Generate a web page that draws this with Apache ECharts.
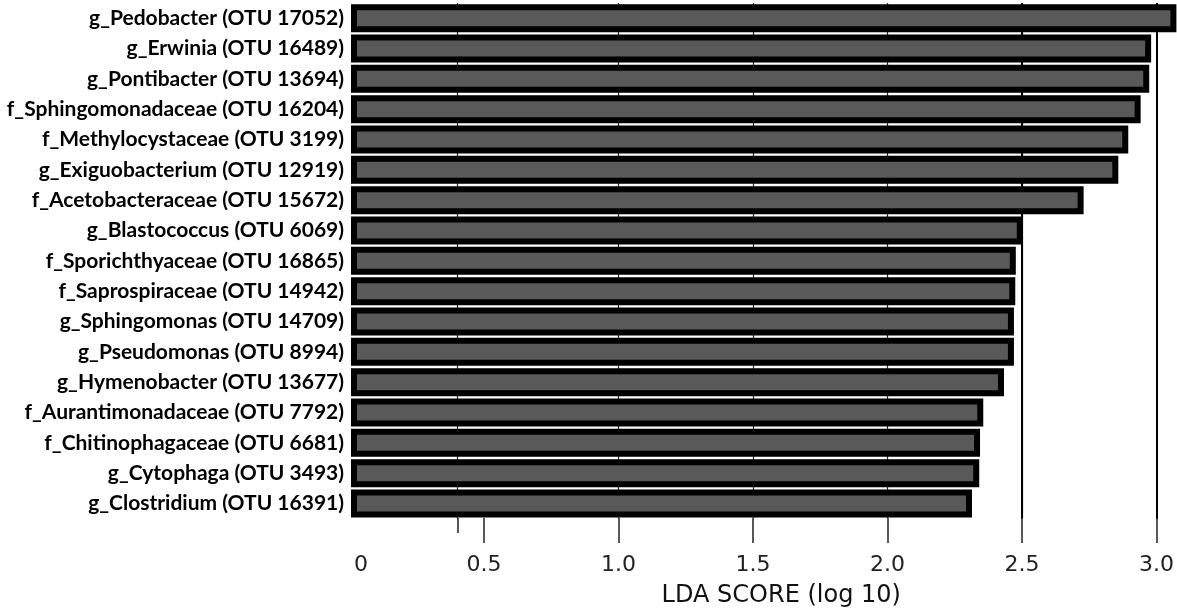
<!DOCTYPE html>
<html>
<head>
<meta charset="utf-8">
<script src="https://cdn.jsdelivr.net/npm/echarts@6/dist/echarts.min.js"></script>
<style>
html,body{margin:0;padding:0;background:#fff;}
#chart{width:1177px;height:613px;}
</style>
</head>
<body>
<div id="chart"></div>
<script>
const categories = [
  'g_Pedobacter (OTU 17052)',
  'g_Erwinia (OTU 16489)',
  'g_Pontibacter (OTU 13694)',
  'f_Sphingomonadaceae (OTU 16204)',
  'f_Methylocystaceae (OTU 3199)',
  'g_Exiguobacterium (OTU 12919)',
  'f_Acetobacteraceae (OTU 15672)',
  'g_Blastococcus (OTU 6069)',
  'f_Sporichthyaceae (OTU 16865)',
  'f_Saprospiraceae (OTU 14942)',
  'g_Sphingomonas (OTU 14709)',
  'g_Pseudomonas (OTU 8994)',
  'g_Hymenobacter (OTU 13677)',
  'f_Aurantimonadaceae (OTU 7792)',
  'f_Chitinophagaceae (OTU 6681)',
  'g_Cytophaga (OTU 3493)',
  'g_Clostridium (OTU 16391)'
];
const ldaScores = [3.074, 2.980, 2.973, 2.941, 2.895, 2.858, 2.729, 2.503, 2.477, 2.475, 2.470, 2.470, 2.433, 2.356, 2.344, 2.341, 2.314];
const xTickValues = [0.5, 1.0, 1.5, 2.0, 2.5, 3.0];
const strayTickValue = 0.403;
const strongLineValues = [2.5, 3.0];

const X_MAX = 3.0762;
const BAR_MIN = 0.0167;
const GRID_TOP = 3, GRID_BOTTOM = 94.3;
const tickColor = '#222';

const chart = echarts.init(document.getElementById('chart'), null, {renderer: 'canvas'});
chart.setOption({
  backgroundColor: '#fff',
  animation: false,
  grid: [
    {left: 349.5, right: 0, top: GRID_TOP, bottom: GRID_BOTTOM, containLabel: false},
    {left: 354, right: 0, top: GRID_TOP, bottom: GRID_BOTTOM, containLabel: false}
  ],
  xAxis: [
    {
      type: 'value', gridIndex: 0, min: 0, max: X_MAX, interval: 0.5,
      name: 'LDA SCORE (log 10)', nameLocation: 'middle', nameGap: 66,
      nameTextStyle: {fontFamily: 'DejaVu Sans', fontSize: 24, color: '#111', padding: [0, 0, 0, 36]},
      axisLine: {show: false},
      axisTick: {show: true, length: 25, customValues: xTickValues, lineStyle: {color: tickColor, width: 1.5}},
      axisLabel: {
        show: true, margin: 36, fontFamily: 'DejaVu Sans', fontSize: 22, color: tickColor,
        showMaxLabel: false,
        formatter: v => v === 0 ? '{z|0}' : v.toFixed(1),
        rich: {z: {fontFamily: 'DejaVu Sans', fontSize: 22, color: tickColor, padding: [0, 0, 0, 23]}}
      },
      splitLine: {show: true, showMinLine: false, showMaxLine: false, lineStyle: {color: '#2a2a2a', width: 1.2}}
    },
    {
      type: 'value', gridIndex: 0, min: 0, max: X_MAX, position: 'bottom',
      axisLine: {show: false}, axisLabel: {show: false}, splitLine: {show: false},
      axisTick: {show: true, length: 15, customValues: [strayTickValue], lineStyle: {color: tickColor, width: 1.5}}
    },
    {
      type: 'value', gridIndex: 1, min: BAR_MIN, max: X_MAX, show: false
    }
  ],
  yAxis: [
    {type: 'category', gridIndex: 0, data: categories, inverse: true, show: false},
    {
      type: 'category', gridIndex: 1, data: categories, inverse: true,
      axisLine: {show: false}, axisTick: {show: false},
      axisLabel: {margin: 10, fontFamily: 'Lato', fontWeight: 'bold', fontSize: 21, color: '#000'}
    }
  ],
  series: [
    {
      type: 'bar', xAxisIndex: 2, yAxisIndex: 1, data: ldaScores, barWidth: 28, clip: true, z: 3,
      itemStyle: {color: '#595959', borderColor: '#000', borderWidth: 6},
      markLine: {
        z: 1, silent: true, symbol: 'none', label: {show: false},
        lineStyle: {color: '#000', type: 'solid', width: 2},
        data: strongLineValues.map(v => ({xAxis: v})).concat([{xAxis: strayTickValue, lineStyle: {width: 1.2, color: '#2a2a2a'}}])
      }
    }
  ]
});
</script>
</body>
</html>
